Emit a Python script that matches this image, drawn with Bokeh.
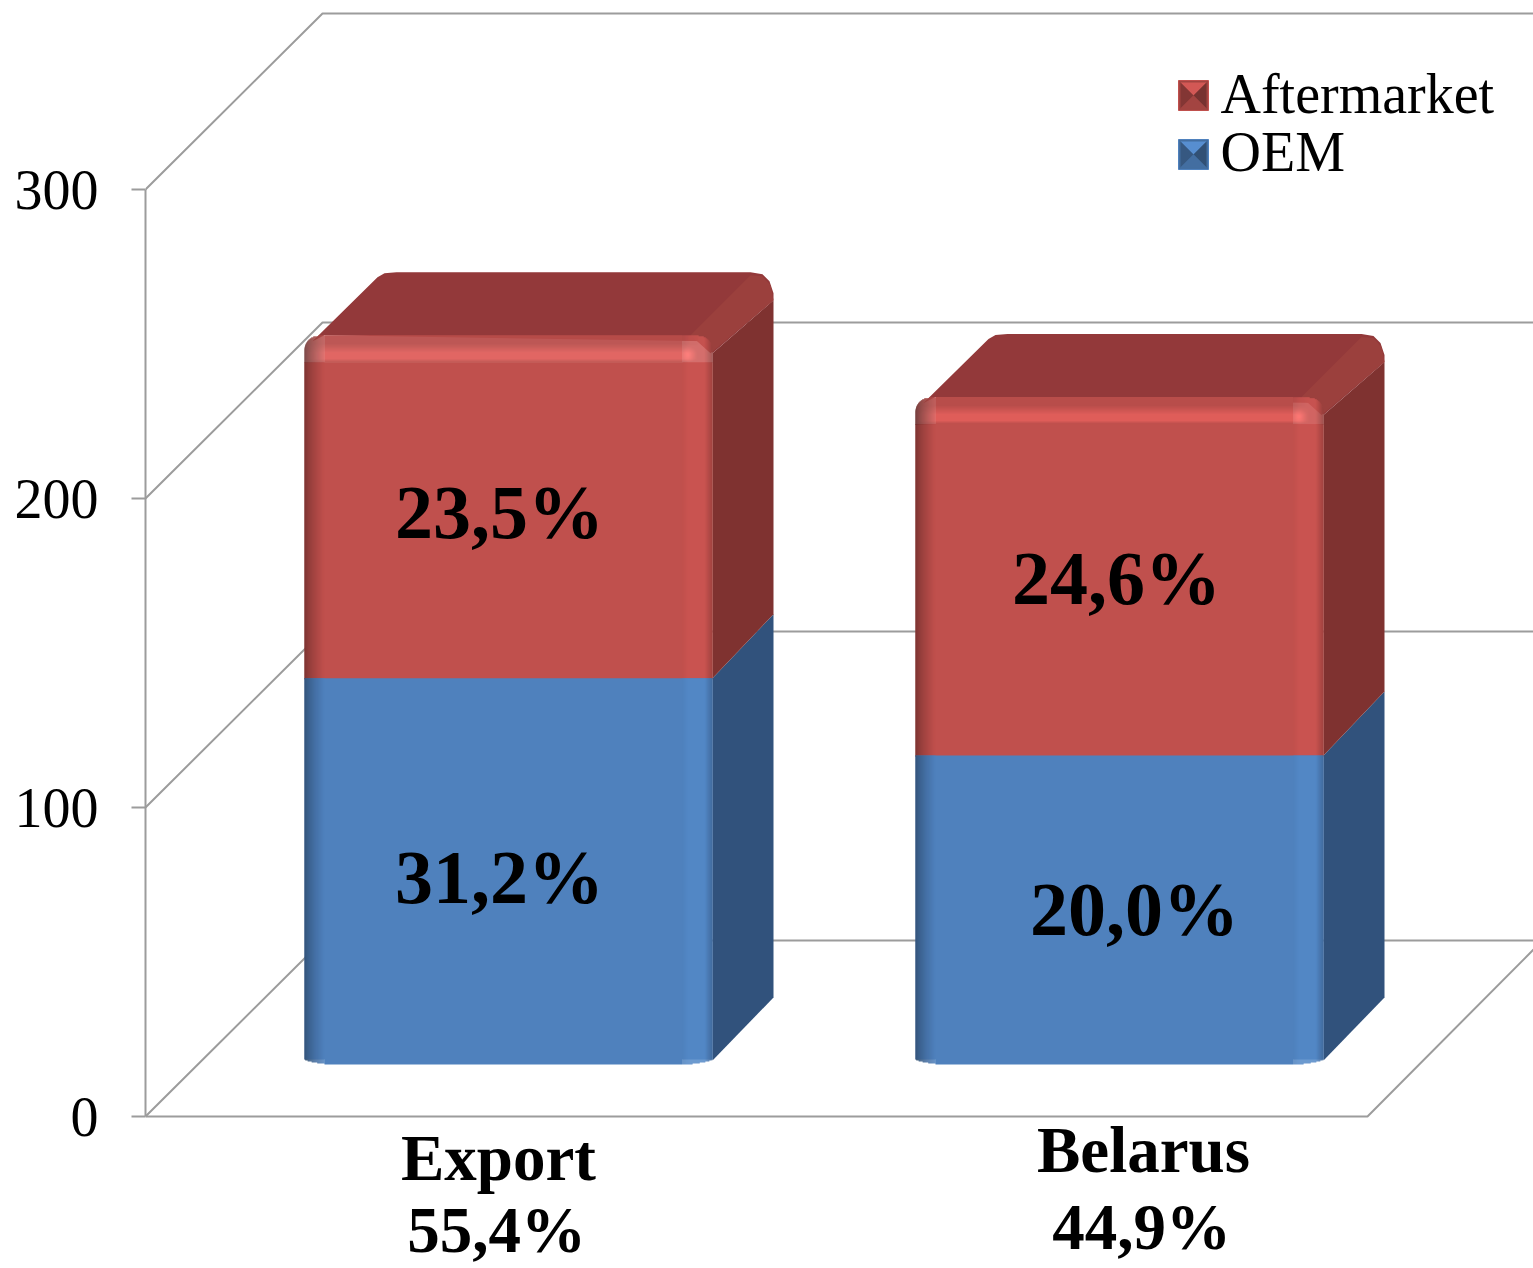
import math
from bokeh.plotting import figure
from bokeh.models import Range1d, FixedTicker
from bokeh.core.properties import value
from bokeh.embed import file_html
from bokeh.resources import INLINE

# ---- data ----
categories = ["Export", "Belarus"]
category_shares = ["55,4%", "44,9%"]
series_names = ["Aftermarket", "OEM"]
oem_values = [125, 100]
aftermarket_values = [111, 116]
oem_labels = ["31,2%", "20,0%"]
aftermarket_labels = ["23,5%", "24,6%"]
y_ticks = [0, 100, 200, 300]

# ---- layout (reference pixels) ----
PX = 3.09              # pixels per value unit
Y0 = 1116              # pixel row of value 0
FIG_W, FIG_H = 1533, 1268
AX_X = 145
BAR_LEFT = [304, 915]
BAR_W = 408
DX, DY = 61, 64        # bar depth
WALL_DX, WALL_DY = 177, 176
FLOOR_W = 1222
BASE = 52 / PX         # bar base above value 0
SERIF = value("Liberation Serif")
RED, BLUE = (192, 80, 77), (79, 129, 189)
GRID = "#9c9c9c"
BASELINE_SHIFT = 0.35  # em, the glyph draws its alphabetic baseline this far low


def up(px):
    return px / PX


def hexc(c):
    return "#%02x%02x%02x" % tuple(max(0, min(255, round(v))) for v in c)


def scale(c, f):
    return tuple(v * f for v in c)


p = figure(width=FIG_W, height=FIG_H, output_backend="svg", toolbar_location=None,
           x_range=Range1d(AX_X, FIG_W),
           y_range=Range1d((Y0 - FIG_H) / PX, Y0 / PX),
           min_border_left=AX_X, min_border_right=0, min_border_top=0, min_border_bottom=0,
           x_axis_location=None)
p.outline_line_color = None
p.grid.visible = False
p.background_fill_color = "white"
ax = p.yaxis[0]
ax.ticker = FixedTicker(ticks=y_ticks)
ax.bounds = (0, 300)
ax.axis_line_color = GRID
ax.axis_line_width = 2
ax.major_tick_line_color = GRID
ax.major_tick_line_width = 2
ax.major_tick_out = 14
ax.major_tick_in = 0
ax.minor_tick_line_color = None
ax.major_label_text_font = "Liberation Serif"
ax.major_label_text_font_size = "56px"
ax.major_label_text_color = "black"
ax.major_label_standoff = 33

# walls
for t in y_ticks:
    p.line([AX_X, AX_X + WALL_DX, FIG_W], [t, t + up(WALL_DY), t + up(WALL_DY)],
           line_color=GRID, line_width=2)
p.line([AX_X, AX_X + FLOOR_W, FIG_W], [0, 0, up(167)], line_color=GRID, line_width=2)


def front(L, bottom, top, base, round_top, round_bottom):
    R = L + BAR_W
    band = 27 if round_top else 0
    foot = 5 if round_bottom else 0
    body_b, body_t = bottom + up(foot), top - up(band)

    def h_factor(x):
        """horizontal shading across the front face"""
        a, b = x - L, R - x
        f = 1.0
        if a < 20:
            f = 0.5 + 0.5 * (a / 20) ** 0.7
        if b < 30:
            if b < 8:
                f = 0.78 + 0.29 * b / 8
            elif b < 24:
                f = 1.06
            else:
                f = 1.06 - 0.06 * (b - 24) / 6
        return f

    left_strips = [(x, x + 1) for x in range(L, L + 20)]
    right_strips = [(x, x + 1) for x in range(R - 30, R)]
    strips = left_strips + right_strips

    # the stacked bar itself
    p.quad(left=[L], right=[R], bottom=[body_b], top=[body_t], fill_color=hexc(base), line_color=None)
    p.quad(left=[a for a, _ in strips], right=[b for _, b in strips], bottom=body_b, top=body_t,
           fill_color=[hexc(scale(base, h_factor((a + b) / 2))) for a, b in strips], line_color=None)

    # rounded, lit top band, one row per pixel
    L2, R2, B2, T2, C2 = [], [], [], [], []
    all_strips = left_strips + [(L + 20, R - 30)] + right_strips
    if round_top:
        r = 14
        for d in range(band):
            inset = r - math.sqrt(max(0, r * r - (r - d) ** 2)) if d < r else 0
            if d < 8:
                v = 0.96
            elif d < 17:
                v = 0.96 + 0.20 * (d - 8) / 9
            elif d < 24:
                v = 1.16
            else:
                v = 1.16 - 0.16 * (d - 23) / 3
            for a, b in all_strips:
                aa, bb = max(a, L + inset), min(b, R - inset)
                if bb <= aa:
                    continue
                cx = (a + b) / 2
                f = h_factor(cx)
                # the lit band fades out towards both edges
                edge = min(1, max(0, (cx - L) / 25), max(0, (R - 14 - cx) / 12))
                vv = 1 + (v - 1) * edge
                # small hot spot on the front corner
                dist = math.hypot(cx - (R - 24), d - 19)
                spot = 1 + 0.10 * max(0, 1 - dist / 8)
                L2.append(aa); R2.append(bb)
                T2.append(top - up(d)); B2.append(top - up(d + 1.6))
                C2.append(hexc(scale(base, f * vv * spot)))
    if round_bottom:
        for d in range(foot - 1, -1, -1):
            inset = 20 * (1 - d / foot) ** 2
            for a, b in all_strips:
                aa, bb = max(a, L + inset), min(b, R - inset)
                if bb <= aa:
                    continue
                L2.append(aa); R2.append(bb)
                T2.append(bottom + up(d + 1.6)); B2.append(bottom + up(d))
                C2.append(hexc(scale(base, h_factor((a + b) / 2))))
    if L2:
        p.quad(left=L2, right=R2, bottom=B2, top=T2, fill_color=C2, line_color=None)


for i, L in enumerate(BAR_LEFT):
    R = L + BAR_W
    b0 = BASE
    b1 = b0 + oem_values[i]
    b2 = b1 + aftermarket_values[i]

    # side faces
    p.patch([R, R + DX, R + DX, R], [b0 + up(4), b0 + up(4 + 63), b1 + up(DY), b1],
            fill_color="#31527c", line_color=None)
    p.patch([R, R + DX, R + DX, R], [b1, b1 + up(DY), b2 + up(35), b2 - up(18)],
            fill_color="#7f3230", line_color=None)
    # top face (rounded at the back corners)
    p.patch([L + 8, L + 73, L + 80, L + 92, R + 38, R + 50, R + 57, R + DX, R + DX, R, R - 4, L + 20],
            [b2 - up(6), b2 + up(58), b2 + up(62), b2 + up(63), b2 + up(63), b2 + up(61),
             b2 + up(54), b2 + up(42), b2 + up(35), b2 - up(18), b2 - up(6), b2],
            fill_color="#93393a", line_color=None)
    # lit ridge between top and side
    p.patch([R - 22, R + 38, R + 50, R + 58, R + DX, R - 2],
            [b2, b2 + up(60), b2 + up(59), b2 + up(50), b2 + up(35), b2 - up(18)],
            fill_color="#9b403d", line_color=None)

    # red runs a pixel under the blue so that no seam shows
    front(L, b1 - up(1), b2, RED, True, False)
    front(L, b0, b1, BLUE, False, True)


def label(xs, base_px, texts, size, bold=True, align="center"):
    p.text(x=xs, y=[(Y0 - v) / PX for v in base_px], text=texts,
           y_offset=-BASELINE_SHIFT * size,
           text_font=SERIF, text_font_style="bold" if bold else "normal",
           text_font_size=f"{size}px", text_align=align,
           text_baseline="alphabetic", text_color="black")


# value labels inside the bars
label([499, 1116], [538, 604], aftermarket_labels, 76)
label([499, 1134], [903, 935], oem_labels, 76)

# category labels
label([498, 1143], [1180, 1172], categories, 65)
label([496, 1141], [1252, 1249], category_shares, 65)

# legend
KEY_X, KEY_S = 1178, 30
key_rows = [(80, RED), (139, BLUE)]
text_rows = [113, 171]
for (top_px, col), name, base_px in zip(key_rows, series_names, text_rows):
    x0, x1 = KEY_X, KEY_X + KEY_S
    xm = (x0 + x1) / 2
    t = (Y0 - top_px) / PX
    b = (Y0 - top_px - KEY_S) / PX
    m = (t + b) / 2
    p.patch([x0, x1, x1, x0], [t, t, b, b], fill_color=hexc(scale(col, 0.85)),
            line_color=hexc(scale(col, 1.0)), line_width=1)
    p.patch([x0 + 2, x1 - 2, xm], [t - up(2), t - up(2), m], fill_color=hexc(scale(col, 1.1)), line_color=None)
    p.patch([x0 + 2, x0 + 2, xm], [t - up(2), b + up(2), m], fill_color=hexc(scale(col, 0.68)), line_color=None)
    p.patch([x1 - 2, x1 - 2, xm], [t - up(2), b + up(2), m], fill_color=hexc(scale(col, 0.62)), line_color=None)
    p.patch([x0 + 2, x1 - 2, xm], [b + up(2), b + up(2), m], fill_color=hexc(scale(col, 0.85)), line_color=None)
    label([1220], [base_px], [name], 56, bold=False, align="left")

open("out.html", "w").write(file_html(p, INLINE))
